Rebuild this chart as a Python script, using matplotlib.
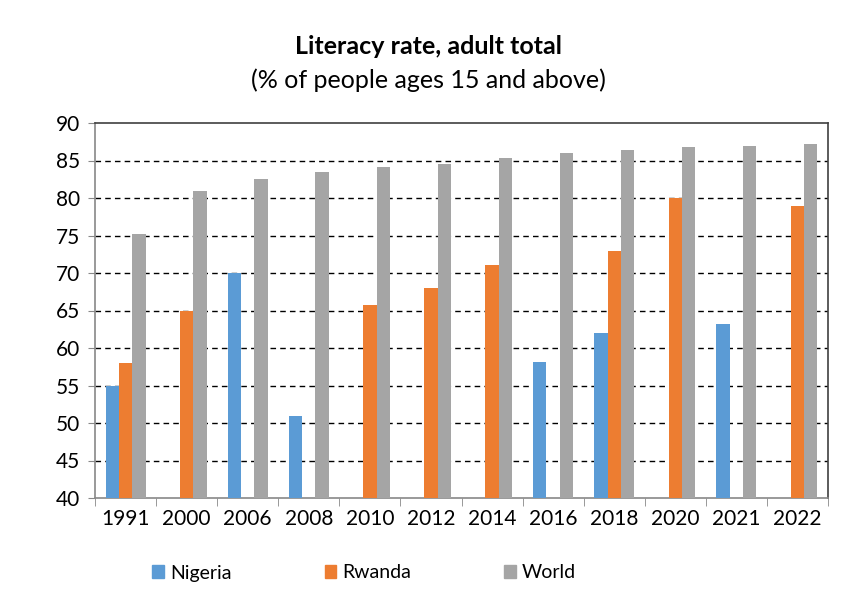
import numpy as np
import matplotlib.pyplot as plt
from matplotlib.patches import Patch

years = ["1991", "2000", "2006", "2008", "2010", "2012", "2014", "2016", "2018", "2020", "2021", "2022"]
nigeria = [55.0, np.nan, 70.0, 51.0, np.nan, np.nan, np.nan, 58.1, 62.0, np.nan, 63.2, np.nan]
rwanda = [58.0, 65.0, np.nan, np.nan, 65.8, 68.0, 71.1, np.nan, 72.9, 80.0, np.nan, 78.9]
world = [75.2, 81.0, 82.5, 83.4, 84.2, 84.5, 85.3, 86.0, 86.4, 86.8, 87.0, 87.2]

plt.rcParams["font.family"] = ["Lato", "DejaVu Sans"]

c_nig = "#5b9bd5"
c_rwa = "#ed7d31"
c_wld = "#a5a5a5"

fig = plt.figure(figsize=(8.57, 6.01), dpi=100)
ax = fig.add_axes([95 / 857, 1 - 498 / 601, (828 - 95) / 857, (498 - 123) / 601])

x = np.arange(len(years))
w = 0.218
base = 40
for vals, off, col in [(nigeria, -w, c_nig), (rwanda, 0, c_rwa), (world, w, c_wld)]:
    v = np.array(vals, dtype=float)
    ok = ~np.isnan(v)
    ax.bar(x[ok] + off, v[ok] - base, bottom=base, width=w, color=col, zorder=3)

ax.set_xlim(-0.5, len(years) - 0.5)
ax.set_ylim(40, 90)
ax.set_yticks(range(40, 91, 5))
for y in range(45, 90, 5):
    ax.axhline(y, color="black", linestyle=(0, (4, 3)), linewidth=1.0, zorder=1)

ax.set_xticks(x)
ax.set_xticklabels(years)
ax.set_xticks(np.arange(-0.5, len(years), 1), minor=True)
ax.tick_params(axis="x", which="major", length=0, pad=8, labelsize=15)
ax.tick_params(axis="x", which="minor", length=6, color="#888888", direction="out")
ax.tick_params(axis="y", length=5, color="#888888", labelsize=15, pad=6)

ax.spines["left"].set_color("#888888")
ax.spines["bottom"].set_color("#888888")
ax.spines["top"].set_color("#404040")
ax.spines["right"].set_color("#404040")
for s in ax.spines.values():
    s.set_linewidth(1.2)

fig.text(0.5, 1 - 47 / 601, "Literacy rate, adult total", ha="center", va="center",
         fontsize=18, fontweight="bold")
fig.text(0.5, 1 - 80 / 601, "(% of people ages 15 and above)", ha="center", va="center",
         fontsize=18)

handles = [Patch(color=c_nig, label="Nigeria"), Patch(color=c_rwa, label="Rwanda"),
           Patch(color=c_wld, label="World")]
fig.legend(handles=handles, loc="center", bbox_to_anchor=(0.425, 1 - 573 / 601), ncol=3,
           frameon=False, fontsize=14, handlelength=0.6, handleheight=0.6,
           handletextpad=0.3, columnspacing=4.8)

fig.savefig("out.png", dpi=100)
